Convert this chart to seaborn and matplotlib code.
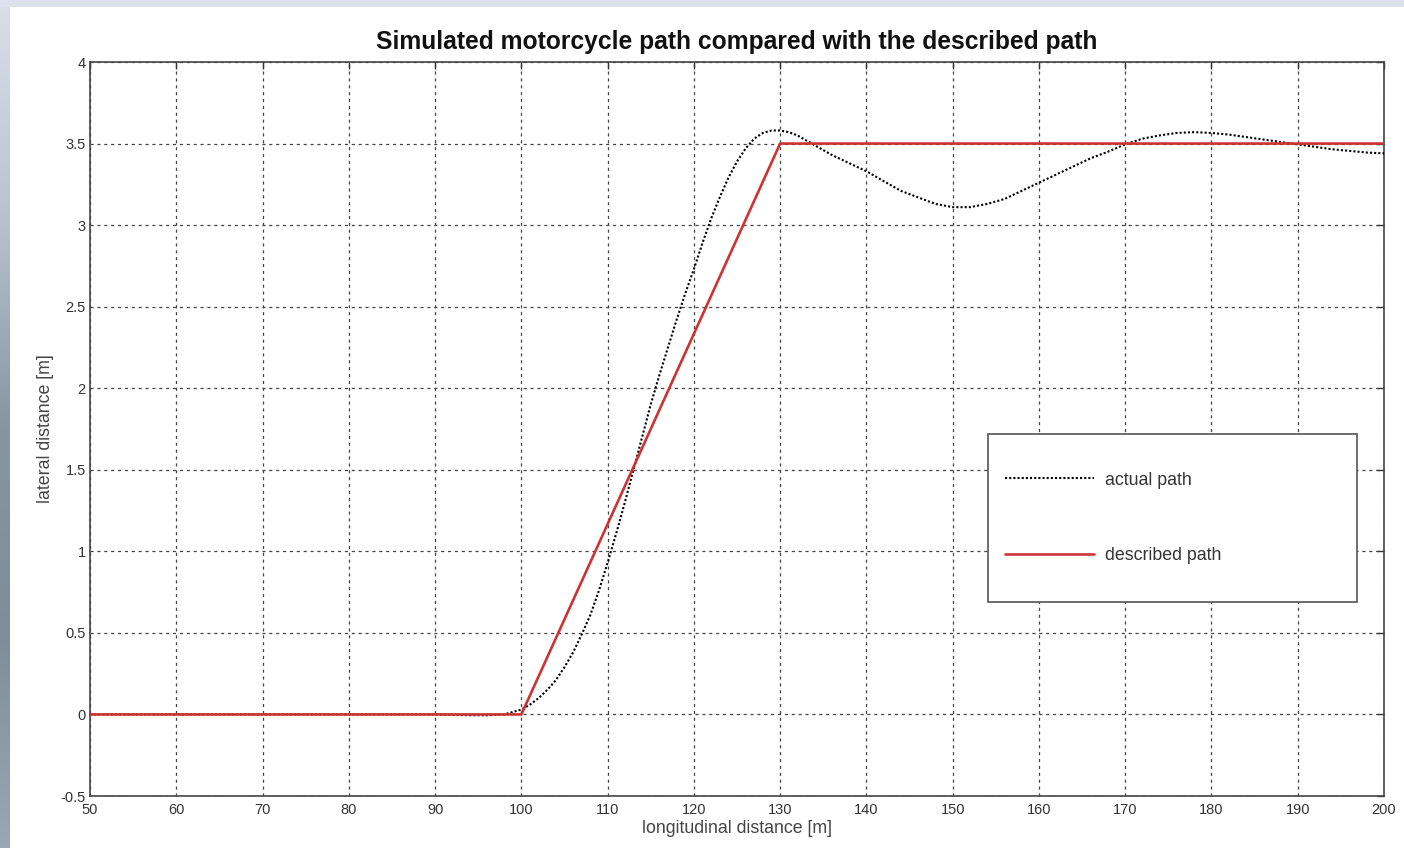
import numpy as np
import pandas as pd
import matplotlib
matplotlib.use("Agg")
import matplotlib.pyplot as plt
import seaborn as sns
from matplotlib.colors import LinearSegmentedColormap
from matplotlib.patches import Rectangle

# ---- data ----
actual_x = [50, 60, 70, 80, 90, 94, 96, 98, 100, 101, 102, 103, 104, 105, 106, 107, 108, 109,
            110, 111, 112, 113, 114, 115, 116, 117, 118, 119, 120, 121, 122, 123, 124, 125,
            126, 127, 128, 129, 130, 131, 132, 133, 134, 135, 136, 138, 140, 142, 144, 146,
            148, 150, 152, 154, 156, 158, 160, 162, 164, 166, 168, 170, 172, 174, 176, 178,
            180, 182, 184, 186, 188, 190, 192, 194, 196, 198, 200]
actual_y = [0.0, 0.0, 0.0, 0.0, 0.0, -0.005, -0.005, 0.0, 0.03, 0.06, 0.10, 0.15, 0.21, 0.29,
            0.38, 0.49, 0.61, 0.76, 0.93, 1.11, 1.30, 1.50, 1.70, 1.90, 2.08, 2.25, 2.42, 2.58,
            2.73, 2.89, 3.04, 3.17, 3.29, 3.39, 3.47, 3.53, 3.565, 3.58, 3.58, 3.57, 3.55, 3.52,
            3.49, 3.46, 3.43, 3.38, 3.33, 3.27, 3.21, 3.17, 3.13, 3.11, 3.11, 3.13, 3.16, 3.21,
            3.26, 3.31, 3.36, 3.41, 3.45, 3.495, 3.53, 3.55, 3.565, 3.57, 3.565, 3.555, 3.54,
            3.525, 3.51, 3.495, 3.48, 3.465, 3.455, 3.445, 3.44]
described_x = [50, 100, 130, 200]
described_y = [0.0, 0.0, 3.5, 3.5]

x_ticks = [50, 60, 70, 80, 90, 100, 110, 120, 130, 140, 150, 160, 170, 180, 190, 200]
y_ticks = [-0.5, 0, 0.5, 1, 1.5, 2, 2.5, 3, 3.5, 4]
y_ticklabels = ["-0.5", "0", "0.5", "1", "1.5", "2", "2.5", "3", "3.5", "4"]

title = "Simulated motorcycle path compared with the described path"
xlabel = "longitudinal distance [m]"
ylabel = "lateral distance [m]"
labels = ["actual path", "described path"]

df_actual = pd.DataFrame({"x": actual_x, "y": actual_y})
df_desc = pd.DataFrame({"x": described_x, "y": described_y})

sns.set_theme(style="white")
plt.rcParams["font.family"] = ["Liberation Sans", "DejaVu Sans"]

W, H = 1404, 848
fig = plt.figure(figsize=(W / 100, H / 100), dpi=100)
fig.patch.set_facecolor("#dce2eb")
# white page area
fig.add_artist(Rectangle((10 / W, 0), 1 - 10 / W, 1 - 7 / H, transform=fig.transFigure,
                         facecolor="white", edgecolor="none", zorder=0))
# left gradient strip
gax = fig.add_axes([0, 0, 10 / W, 1 - 7 / H])
grad = np.linspace(0, 1, 256).reshape(-1, 1)
cmap = LinearSegmentedColormap.from_list("band", ["#d8dee8", "#b8c2ce", "#8795a3", "#7f8d9a", "#9aa6b3"])
gax.imshow(grad, aspect="auto", cmap=cmap, origin="upper")
gax.set_axis_off()

ax = fig.add_axes([90 / W, 1 - 796 / H, (1384 - 90) / W, (796 - 62) / H])
ax.set_facecolor("white")

sns.lineplot(data=df_actual, x="x", y="y", ax=ax, color="black", linewidth=1.5,
             linestyle=(0, (1, 1)), label=labels[0], estimator=None, zorder=3)
sns.lineplot(data=df_desc, x="x", y="y", ax=ax, color="#cc3333", linewidth=1.9,
             label=labels[1], estimator=None, zorder=4)

ax.set_xlim(50, 200)
ax.set_ylim(-0.5, 4)
ax.set_xticks(x_ticks)
ax.set_xticklabels([str(t) for t in x_ticks])
ax.set_yticks(y_ticks)
ax.set_yticklabels(y_ticklabels)

ax.grid(True, color="#444444", linestyle=(0, (2.5, 3)), linewidth=0.9)
ax.tick_params(axis="both", which="both", direction="in", length=5, width=1,
               colors="#333333", labelsize=10.5, top=True, right=True,
               labeltop=False, labelright=False)
ax.tick_params(axis="x", pad=5)
ax.tick_params(axis="y", pad=3)
for s in ax.spines.values():
    s.set_visible(True)
    s.set_color("#444444")
    s.set_linewidth(1.2)

ax.set_title(title, fontsize=17.7, fontweight="bold", color="#111111", pad=9)
ax.set_xlabel(xlabel, fontsize=12.8, color="#444444", labelpad=2)
ax.set_ylabel(ylabel, fontsize=12.8, color="#444444", labelpad=5)

# legend box (drawn as a patch so its size matches the reference)
box_x, box_y, box_w, box_h = 0.694, 0.2643, 0.285, 0.229
ax.add_patch(Rectangle((box_x, box_y), box_w, box_h, transform=ax.transAxes,
                       facecolor="white", edgecolor="#555555", linewidth=1.2, zorder=6))
fs = 12.8
leg = ax.legend(loc="center left", bbox_to_anchor=(box_x, box_y + box_h / 2),
                fontsize=fs, frameon=False, borderpad=0.0, labelspacing=3.3,
                handlelength=5.0, handletextpad=0.6, borderaxespad=0)
leg.set_bbox_to_anchor((box_x + 17 / 1294, box_y + box_h / 2), transform=ax.transAxes)
leg.set_zorder(7)
for t in leg.get_texts():
    t.set_color("#333333")

fig.savefig("out.png", dpi=100, facecolor=fig.get_facecolor())
